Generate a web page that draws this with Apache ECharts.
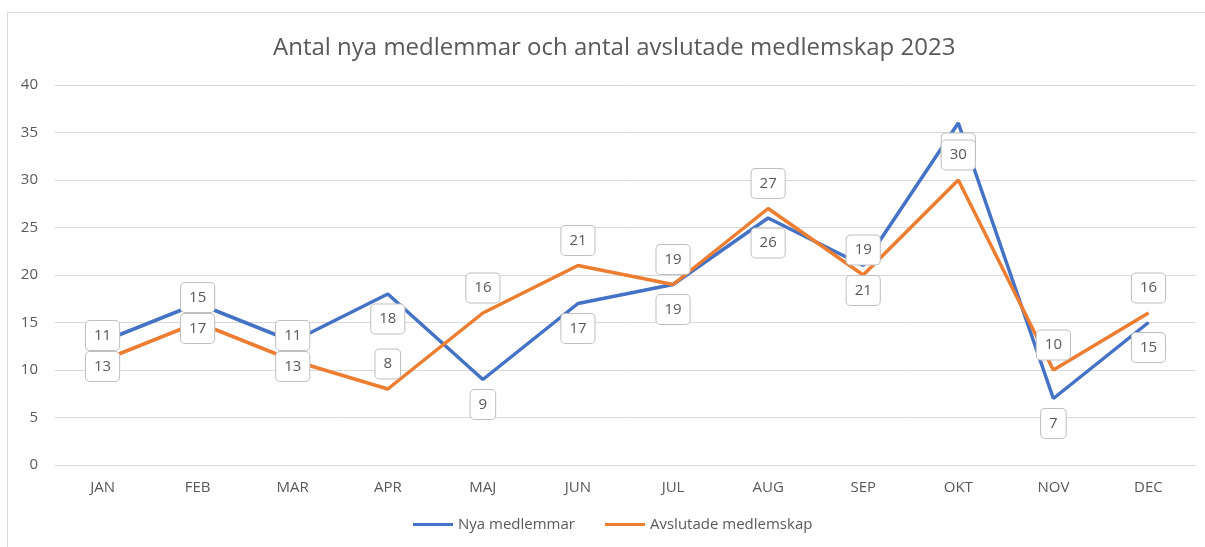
<!DOCTYPE html>
<html>
<head>
    <meta charset="UTF-8">
    <title>Medlemmar 2023</title>
    <script src="https://cdn.jsdelivr.net/npm/echarts@6/dist/echarts.min.js"></script>
    <style>
        body { margin: 0; background: #fff; }
        #container { width: 1205px; height: 547px; }
    </style>
</head>
<body>
<div id="container"></div>
<script>
    // kategorier och serier
    var manader = ['JAN', 'FEB', 'MAR', 'APR', 'MAJ', 'JUN', 'JUL', 'AUG', 'SEP', 'OKT', 'NOV', 'DEC'];
    var nyaMedlemmar = [13, 17, 13, 18, 9, 17, 19, 26, 21, 36, 7, 15];
    var avslutade = [11, 15, 11, 8, 16, 21, 19, 27, 20, 30, 10, 16];
    // etiketterna i bilden stämmer inte alltid med linjen
    var nyaEtiketter = [13, 17, 13, 18, 9, 17, 19, 26, 21, 36, 7, 15];
    var avslEtiketter = [11, 15, 11, 8, 16, 21, 19, 27, 19, 30, 10, 16];
    var yTicks = [0, 5, 10, 15, 20, 25, 30, 35, 40];

    var font = '"Open Sans", sans-serif';
    var grey = '#595959';

    function etikett(pos, texter) {
        return {
            show: true,
            position: pos,
            distance: 10,
            formatter: function (p) { return texter[p.dataIndex]; },
            color: grey,
            fontFamily: font,
            fontSize: 15,
            backgroundColor: '#fff',
            borderColor: '#bfbfbf',
            borderWidth: 1,
            borderRadius: 4,
            padding: [7, 8]
        };
    }

    var chart = echarts.init(document.getElementById('container'), null, {renderer: 'canvas'});
    var option = {
        animation: false,
        title: {
            text: 'Antal nya medlemmar och antal avslutade medlemskap 2023',
            left: 268,
            top: 31,
            textStyle: { color: grey, fontWeight: 'normal', fontSize: 24, fontFamily: font }
        },
        graphic: [{
            type: 'rect',
            shape: { x: 7.5, y: 12.5, width: 1300, height: 600 },
            style: { fill: 'none', stroke: '#d9d9d9', lineWidth: 1 },
            silent: true
        }],
        legend: {
            bottom: 10,
            left: 408,
            icon: 'rect',
            itemWidth: 40,
            itemHeight: 3,
            itemGap: 30,
            textStyle: { color: grey, fontSize: 15, fontFamily: font },
            data: ['Nya medlemmar', 'Avslutade medlemskap']
        },
        grid: { left: 55, right: 9, top: 85, bottom: 82 },
        xAxis: {
            type: 'category',
            data: manader,
            boundaryGap: true,
            axisLine: { show: true, lineStyle: { color: '#d9d9d9', width: 1 } },
            axisTick: { show: false },
            axisLabel: { color: grey, fontSize: 15, fontFamily: font, margin: 15 }
        },
        yAxis: {
            type: 'value',
            min: yTicks[0],
            max: yTicks[yTicks.length - 1],
            interval: 5,
            axisLine: { show: false },
            axisTick: { show: false },
            axisLabel: { color: grey, fontSize: 15, fontFamily: font, margin: 17 },
            splitLine: { lineStyle: { color: '#d9d9d9', width: 1 } }
        },
        series: [
            {
                name: 'Nya medlemmar',
                type: 'line',
                data: nyaMedlemmar,
                symbol: 'circle',
                symbolSize: 1,
                itemStyle: { color: '#4472c4' },
                lineStyle: { color: '#4472c4', width: 3.5 },
                label: etikett('bottom', nyaEtiketter)
            },
            {
                name: 'Avslutade medlemskap',
                type: 'line',
                data: avslutade,
                symbol: 'circle',
                symbolSize: 1,
                itemStyle: { color: '#ed7d31' },
                lineStyle: { color: '#ed7d31', width: 3.5 },
                label: etikett('top', avslEtiketter)
            }
        ]
    };
    chart.setOption(option);
</script>
</body>
</html>
